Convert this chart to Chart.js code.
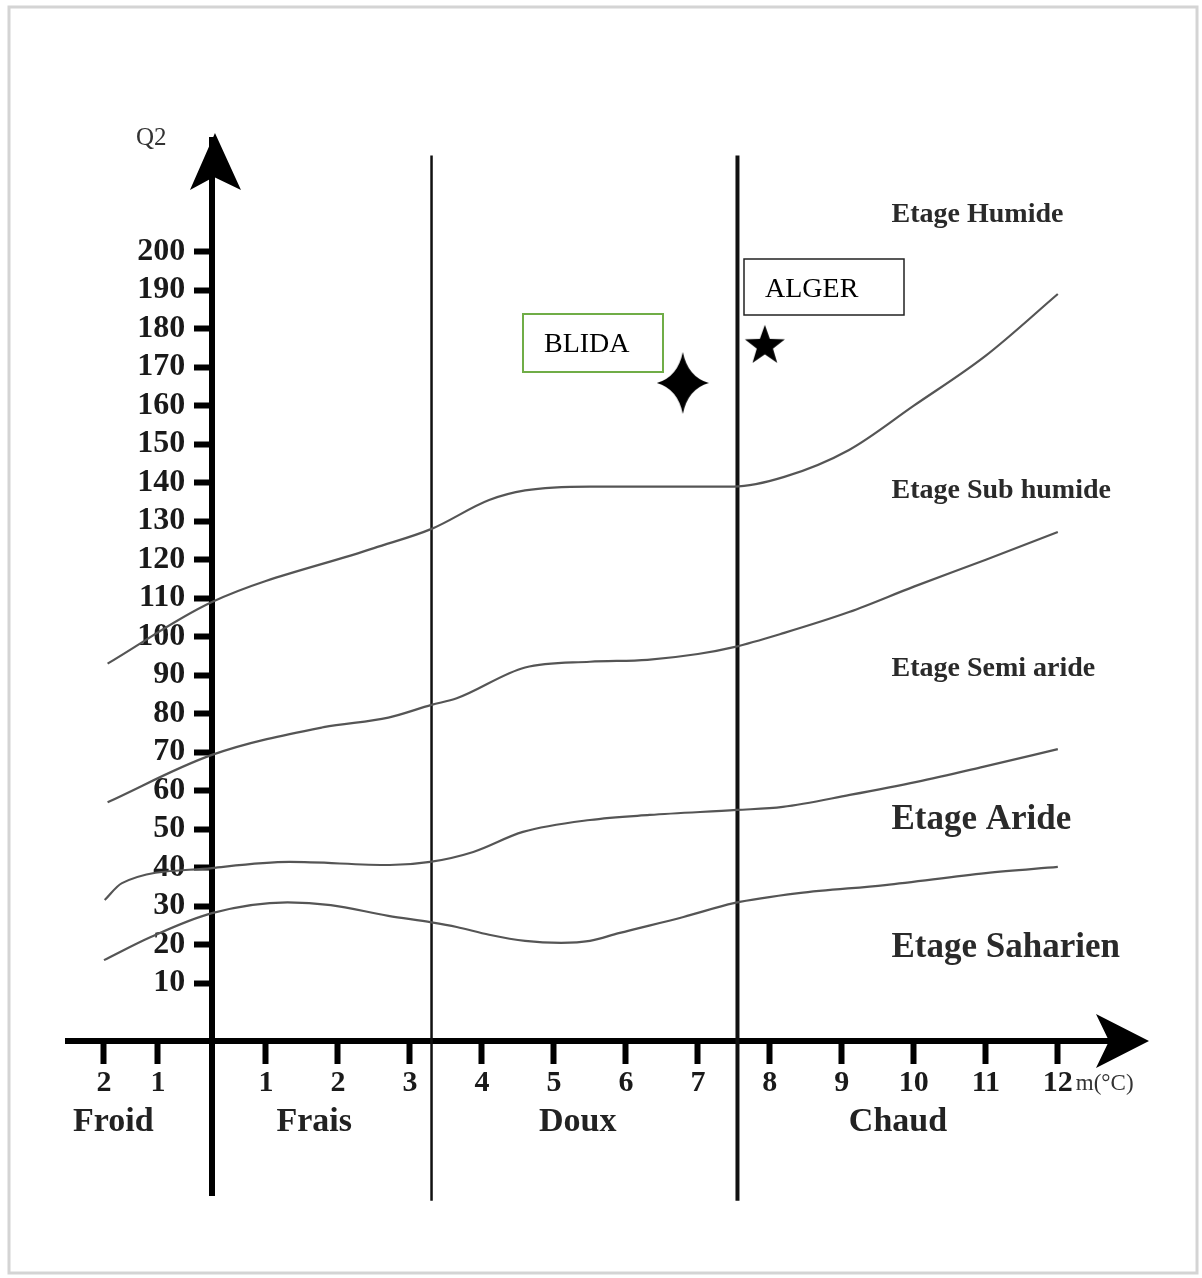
<!DOCTYPE html>
<html>
<head>
<meta charset="utf-8">
<script src="https://cdn.jsdelivr.net/npm/chart.js@4.4.1/dist/chart.umd.min.js"></script>
<style>
  html, body { margin: 0; padding: 0; background: #fff; }
  #wrap { width: 1202px; height: 1278px; position: relative; }
</style>
</head>
<body>
<div id="wrap"><canvas id="chart"></canvas></div>
<script>
// m (°C) tick values as placed on the drawing, and the labels printed under them
const mTicks = [-1.25, -0.5, 1, 2, 3, 4, 5, 6, 7, 8, 9, 10, 11, 12];
const mTickLabels = ['2', '1', '1', '2', '3', '4', '5', '6', '7', '8', '9', '10', '11', '12'];
const q2Ticks = [10, 20, 30, 40, 50, 60, 70, 80, 90, 100, 110, 120, 130, 140, 150, 160, 170, 180, 190, 200];

// bioclimatic limits (m, Q2)
const humideM = [-1.2, 0.25, 2.5, 3.3, 4.1, 4.6, 5.5, 7.5, 8.2, 9.1, 10.0, 11.0, 12.0];
const humideQ = [93, 109, 123, 128, 135.5, 138, 139, 139, 141.5, 148.5, 160, 173, 189];

const subHumideM = [-1.2, 0.25, 1.8, 2.7, 3.3, 3.65, 4.6, 5.5, 6.3, 7.0, 7.5, 8.2, 9.1, 10.0, 11.0, 12.0];
const subHumideQ = [57, 69.3, 76.5, 79, 82.3, 84, 92, 93.5, 94, 95.5, 97.3, 101, 106.4, 113, 120, 127.2];

const semiAridM = [-1.24, -1.0, 0.25, 1.33, 2.72, 3.28, 3.88, 4.57, 5.5, 6.33, 7.54, 8.18, 9.11, 10.04, 10.96, 12.0];
const semiAridQ = [31.6, 36, 39.9, 41.5, 40.7, 41.5, 44.1, 49.3, 52.4, 53.7, 55, 55.8, 58.9, 62.3, 66.2, 70.8];

const aridM = [-1.25, -0.6, 0.25, 1.3, 1.9, 2.7, 3.3, 3.65, 4.1, 4.6, 5.1, 5.5, 5.9, 6.8, 7.5, 8.4, 9.6, 11.0, 12.0];
const aridQ = [16, 22, 28.2, 31, 30.3, 27.5, 25.8, 24.6, 22.6, 21, 20.5, 21, 23, 27.2, 30.8, 33.4, 35.5, 38.6, 40.2];

// thermal zones
const zoneBounds = [3.3, 7.55];
const zoneNames = ['Froid', 'Frais', 'Doux', 'Chaud'];
const zoneLabelM = [-1.12, 1.67, 5.33, 9.78];

// etages
const etageNames = ['Etage Humide', 'Etage Sub humide', 'Etage Semi aride', 'Etage Aride', 'Etage Saharien'];
const etageLabelQ = [209.5, 137.8, 91.6, 52.4, 19.1];

// stations
const stationNames = ['BLIDA', 'ALGER'];
const stationM = [6.79, 7.93];
const stationQ = [165.9, 175.8];

const yAxisAt = 0.25;
const yLabelsAt = -0.12;
const xAxisAt = -5;

const SERIF = '"Liberation Serif", "Times New Roman", serif';

const toPoints = (xs, ys) => xs.map((v, i) => ({ x: v, y: ys[i] }));

function fourStar() {
  const c = document.createElement('canvas');
  c.width = 52; c.height = 62;
  const g = c.getContext('2d');
  const cx = 26, cy = 31;
  g.fillStyle = '#000';
  g.beginPath();
  g.moveTo(cx, 0);
  g.quadraticCurveTo(cx + 5, cy - 6, 52, cy);
  g.quadraticCurveTo(cx + 5, cy + 6, cx, 62);
  g.quadraticCurveTo(cx - 5, cy + 6, 0, cy);
  g.quadraticCurveTo(cx - 5, cy - 6, cx, 0);
  g.fill();
  return c;
}

function fiveStar() {
  const c = document.createElement('canvas');
  c.width = 46; c.height = 46;
  const g = c.getContext('2d');
  const cx = 23, cy = 24, ro = 21, ri = 8.5;
  g.fillStyle = '#000';
  g.beginPath();
  for (let i = 0; i < 10; i++) {
    const r = i % 2 ? ri : ro;
    const a = -Math.PI / 2 + i * Math.PI / 5;
    const px = cx + r * Math.cos(a), py = cy + r * Math.sin(a);
    if (i === 0) g.moveTo(px, py); else g.lineTo(px, py);
  }
  g.closePath();
  g.fill();
  return c;
}

const labelBoxes = {
  BLIDA: { dx: -160, dy: -69, w: 140, h: 58, color: '#70ad47', width: 2 },
  ALGER: { dx: -21, dy: -86, w: 160, h: 56, color: '#222', width: 1.5 }
};

const curveStyle = {
  type: 'line', showLine: true, pointRadius: 0, borderColor: '#555', borderWidth: 2.2,
  cubicInterpolationMode: 'monotone', fill: false
};

const decor = {
  id: 'decor',
  beforeDraw(chart) {
    const ctx = chart.ctx;
    ctx.save();
    ctx.fillStyle = '#fff';
    ctx.fillRect(0, 0, chart.width, chart.height);
    ctx.strokeStyle = '#d4d4d4';
    ctx.lineWidth = 3;
    ctx.strokeRect(9, 7, 1188, 1266);
    ctx.restore();
  },
  afterDraw(chart) {
    const ctx = chart.ctx;
    const xs = chart.scales.x, ys = chart.scales.y;
    const ax = xs.getPixelForValue(yAxisAt);
    const ay = ys.getPixelForValue(xAxisAt);
    const top = chart.chartArea.top;
    const right = chart.chartArea.right;
    ctx.save();

    // arrow heads
    ctx.fillStyle = '#000';
    ctx.beginPath();
    ctx.moveTo(ax + 3, top - 7);
    ctx.lineTo(ax + 29, top + 50);
    ctx.lineTo(ax + 2, top + 37);
    ctx.lineTo(ax - 22, top + 50);
    ctx.closePath();
    ctx.fill();

    ctx.beginPath();
    ctx.moveTo(right + 12, ay);
    ctx.lineTo(right - 41, ay - 27);
    ctx.lineTo(right - 28, ay);
    ctx.lineTo(right - 41, ay + 27);
    ctx.closePath();
    ctx.fill();

    // axis titles
    ctx.fillStyle = '#333';
    ctx.textBaseline = 'middle';
    ctx.textAlign = 'left';
    ctx.font = '25px ' + SERIF;
    ctx.fillText('Q2', ax - 76, top - 2);
    ctx.font = '23px ' + SERIF;
    ctx.fillText('m(°C)', xs.getPixelForValue(12) + 18, ay + 43);

    // thermal zone names
    ctx.fillStyle = '#222';
    ctx.textAlign = 'center';
    ctx.font = 'bold 34px ' + SERIF;
    zoneNames.forEach((n, i) => {
      ctx.fillText(n, xs.getPixelForValue(zoneLabelM[i]), ys.getPixelForValue(-26.1));
    });

    // etage names
    ctx.textAlign = 'left';
    ctx.fillStyle = '#2a2a2a';
    etageNames.forEach((n, i) => {
      ctx.font = (i >= 3 ? 'bold 35px ' : 'bold 28px ') + SERIF;
      ctx.fillText(n, xs.getPixelForValue(9.69), ys.getPixelForValue(etageLabelQ[i]));
    });

    // station label boxes
    ctx.textBaseline = 'alphabetic';
    ctx.font = '28px ' + SERIF;
    stationNames.forEach((n, i) => {
      const b = labelBoxes[n];
      const px = xs.getPixelForValue(stationM[i]);
      const py = ys.getPixelForValue(stationQ[i]);
      const bx = Math.round(px + b.dx), by = Math.round(py + b.dy);
      ctx.fillStyle = '#fff';
      ctx.fillRect(bx, by, b.w, b.h);
      ctx.strokeStyle = b.color;
      ctx.lineWidth = b.width;
      ctx.strokeRect(bx, by, b.w, b.h);
      ctx.fillStyle = '#000';
      ctx.fillText(n, bx + 21, by + 38);
    });
    ctx.restore();
  }
};

const q2AxisTicks = (axis) => { axis.ticks = q2Ticks.map(v => ({ value: v })); };

new Chart(document.getElementById('chart'), {
  type: 'scatter',
  data: {
    datasets: [
      Object.assign({ label: 'Humide', data: toPoints(humideM, humideQ) }, curveStyle),
      Object.assign({ label: 'Sub humide', data: toPoints(subHumideM, subHumideQ) }, curveStyle),
      Object.assign({ label: 'Semi aride', data: toPoints(semiAridM, semiAridQ) }, curveStyle),
      Object.assign({ label: 'Aride', data: toPoints(aridM, aridQ) }, curveStyle),
      {
        type: 'line', label: 'Frais/Doux', showLine: true, pointRadius: 0, clip: false,
        borderColor: '#111', borderWidth: 2.5,
        data: [{ x: zoneBounds[0], y: 225 }, { x: zoneBounds[0], y: -46.5 }]
      },
      {
        type: 'line', label: 'Doux/Chaud', showLine: true, pointRadius: 0, clip: false,
        borderColor: '#111', borderWidth: 4,
        data: [{ x: zoneBounds[1], y: 225 }, { x: zoneBounds[1], y: -46.5 }]
      },
      {
        label: 'Stations',
        data: toPoints(stationM, stationQ),
        pointStyle: [fourStar(), fiveStar()],
        pointRadius: 20
      }
    ]
  },
  options: {
    responsive: true,
    maintainAspectRatio: false,
    animation: false,
    layout: { padding: { left: 68, right: 65, top: 140, bottom: 83 } },
    plugins: { legend: { display: false }, tooltip: { enabled: false } },
    scales: {
      x: {
        type: 'linear', min: -1.75, max: 13.1,
        position: { y: xAxisAt },
        afterBuildTicks: (axis) => { axis.ticks = mTicks.map(v => ({ value: v })); },
        border: { color: '#000', width: 6 },
        grid: { drawOnChartArea: false, drawTicks: true, tickLength: 20, tickWidth: 6, tickColor: '#000' },
        ticks: {
          autoSkip: false, maxRotation: 0, padding: 4, color: '#1a1a1a',
          font: { family: SERIF, size: 30, weight: 'bold' },
          callback: (v, i) => mTickLabels[i]
        }
      },
      y: {
        type: 'linear', min: -45, max: 229,
        position: { x: yAxisAt },
        afterBuildTicks: q2AxisTicks,
        border: { color: '#000', width: 6 },
        grid: { drawOnChartArea: false, drawTicks: true, tickLength: 15, tickWidth: 6, tickColor: '#000' },
        ticks: { display: false, autoSkip: false }
      },
      yl: {
        type: 'linear', min: -45, max: 229,
        position: { x: yLabelsAt },
        afterBuildTicks: q2AxisTicks,
        border: { display: false },
        grid: { display: false },
        ticks: {
          autoSkip: false, padding: 0, color: '#1a1a1a',
          font: { family: SERIF, size: 32, weight: 'bold' }
        }
      }
    }
  },
  plugins: [decor]
});
</script>
</body>
</html>
